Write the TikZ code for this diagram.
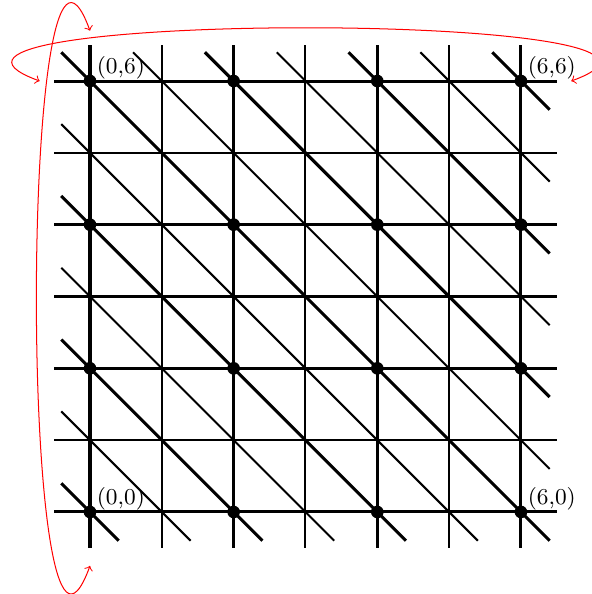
\documentclass[tikz,border=0pt]{standalone}
\usetikzlibrary{calc,positioning}

\begin{document}
\begin{tikzpicture}[
    major/.style={very thick},
    minor/.style={thick},
    vertex/.style={circle, fill, inner sep=0pt, minimum size=5pt},
    corner/.style={font=\small, inner sep=1pt},
    glue/.style={<->, red}
]
\useasboundingbox (-1.253,-1.142) rectangle (6.989,7.128);

% grid lines
\foreach \i in {0,...,6} {
    \ifodd\i \def\sty{minor}\else\def\sty{major}\fi
    \draw[\sty] (\i,-0.5) -- (\i,6.5);
    \draw[\sty] (-0.5,\i) -- (6.5,\i);
}

% diagonals x+y=c
\foreach \c in {0,...,12} {
    \pgfmathsetmacro{\xa}{max(-0.4,\c-6.4)}
    \pgfmathsetmacro{\ya}{\c-\xa}
    \pgfmathsetmacro{\xb}{min(6.4,\c+0.4)}
    \pgfmathsetmacro{\yb}{\c-\xb}
    \ifodd\c \def\sty{minor}\else\def\sty{major}\fi
    \draw[\sty] (\xa,\ya) -- (\xb,\yb);
}

% lattice points
\foreach \i in {0,2,4,6}
    \foreach \j in {0,2,4,6}
        \node[vertex] (v\i\j) at (\i,\j) {};

\node[corner, above right=-2.4pt and -0.4pt of v00] {(0,0)};
\node[corner, above right=-2.4pt and -0.4pt of v60] {(6,0)};
\node[corner, above right=-2.4pt and -0.4pt of v06] {(0,6)};
\node[corner, above right=-2.4pt and -0.4pt of v66] {(6,6)};

% identifications
\coordinate (bot) at (0,-0.75);
\coordinate (top) at (0,6.7);
\coordinate (lft) at (-0.7,6);
\coordinate (rgt) at (6.7,6);

\draw[glue] (bot) to[out=-110, in=110] (top);
\draw[glue] (lft) to[out=160, in=20] (rgt);

\end{tikzpicture}
\end{document}
